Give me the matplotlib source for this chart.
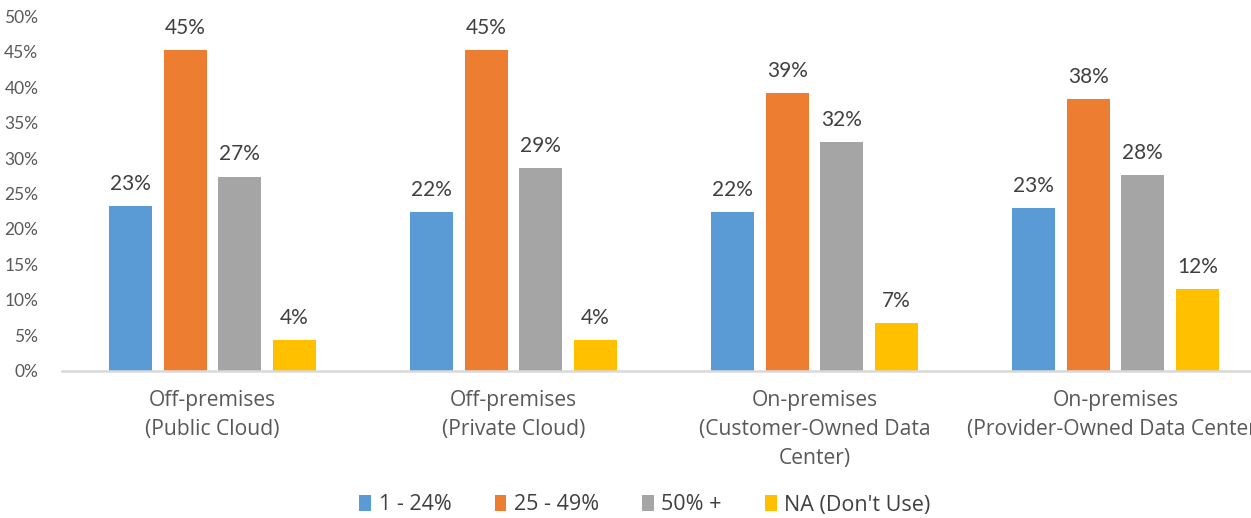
import numpy as np
import matplotlib
matplotlib.use("Agg")
import matplotlib.pyplot as plt
from matplotlib.patches import Patch

plt.rcParams['font.family'] = ['Lato', 'DejaVu Sans']

categories = ["Off-premises\n(Public Cloud)",
              "Off-premises\n(Private Cloud)",
              "On-premises\n(Customer-Owned Data\nCenter)",
              "On-premises\n(Provider-Owned Data Center)"]
series_names = ["1 - 24%", "25 - 49%", "50% +", "NA (Don't Use)"]
share_1_24 = [23.2, 22.4, 22.4, 23.0]
share_25_49 = [45.2, 45.2, 39.2, 38.3]
share_50_plus = [27.4, 28.6, 32.3, 27.6]
share_na = [4.3, 4.3, 6.7, 11.5]
colors = ["#5B9BD5", "#ED7D31", "#A5A5A5", "#FFC000"]
yticks = [0, 5, 10, 15, 20, 25, 30, 35, 40, 45, 50]

series = [share_1_24, share_25_49, share_50_plus, share_na]

fig = plt.figure(figsize=(12.51, 5.18), dpi=100)
# axes runs a little past the right edge, so the last label gets cut off
ax = fig.add_axes([62 / 1251, 1 - 370.5 / 518, 1204 / 1251, 354 / 518])

x = np.arange(len(categories))
pitch = 54.5 / 301
width = 43 / 301
for i, (vals, name, col) in enumerate(zip(series, series_names, colors)):
    pos = x + (i - 1.5) * pitch
    bars = ax.bar(pos, vals, width, color=col, label=name)
    for b, v in zip(bars, vals):
        ax.text(b.get_x() + b.get_width() / 2, v + 1.7, f"{round(v):d}%",
                ha="center", va="bottom", fontsize=15, color="#404040")

ax.set_xlim(-0.5, len(categories) - 0.5)
ax.set_ylim(0, 50)
ax.set_yticks(yticks)
ax.set_yticklabels([f"{t}%" for t in yticks], fontsize=12.5, color="#595959")
ax.set_xticks(x)
ax.set_xticklabels(categories, fontsize=15.2, color="#595959", linespacing=1.5,
                   family=["Open Sans", "DejaVu Sans"])
ax.tick_params(axis="both", length=0)
ax.tick_params(axis="y", pad=17)
ax.tick_params(axis="x", pad=14)

for s in ["top", "right", "left"]:
    ax.spines[s].set_visible(False)
ax.spines["bottom"].set_color("#D9D9D9")
ax.spines["bottom"].set_linewidth(1.8)

handles = [Patch(facecolor=c, edgecolor="none") for c in colors]
fig.legend(handles, series_names, loc="center", bbox_to_anchor=(645 / 1251, 1 - 505 / 518),
           ncol=4, frameon=False, labelcolor="#404040",
           prop={"family": ["Open Sans", "DejaVu Sans"], "size": 15.5},
           handlelength=0.55, handleheight=0.8, handletextpad=0.35, columnspacing=2.0)

fig.savefig("out.png", dpi=100)
